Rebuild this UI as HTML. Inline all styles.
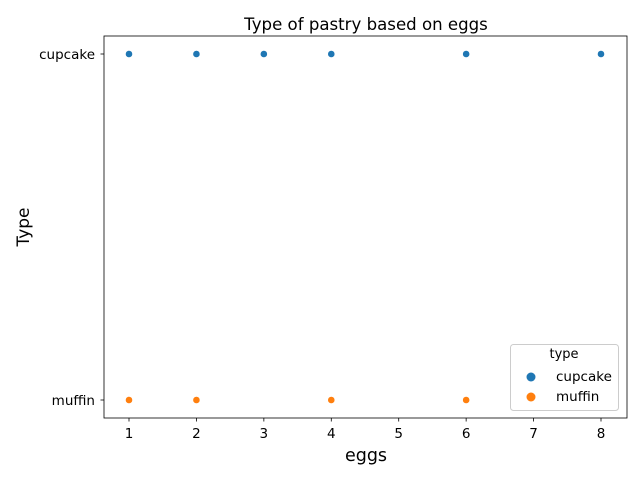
<!DOCTYPE html>
<html><head><meta charset="utf-8"><style>
body{margin:0;background:#fff;font-family:"Liberation Sans","DejaVu Sans",sans-serif}
svg text{font-family:"DejaVu Sans","Liberation Sans",sans-serif}
</style></head><body>
<svg id="chart" width="640" height="480" xmlns="http://www.w3.org/2000/svg">
<rect width="640" height="480" fill="#fff"/>
<g id="g"></g>
</svg>
<script>
const xTicks=[1,2,3,4,5,6,7,8];
const categories=["cupcake","muffin"];
const cupcakeEggs=[1,2,3,4,6,8];
const muffinEggs=[1,2,4,6];
const colors={cupcake:"#1f77b4",muffin:"#ff7f0e"};
const L=104,R=627,T=36,B=418;
const xs=v=>129+(v-1)*(601-129)/7;
const ys=c=>c==="cupcake"?54:400;
const g=document.getElementById('g');
const NS="http://www.w3.org/2000/svg";
function mk(t,a,txt){const e=document.createElementNS(NS,t);for(const k in a)e.setAttribute(k,a[k]);if(txt!==undefined)e.textContent=txt;g.appendChild(e);return e;}
let e=mk('text',{x:366,y:30,'text-anchor':'middle','font-size':16.6},'Type of pastry based on eggs');


xTicks.forEach(t=>{
 let l=mk('line',{x1:xs(t),x2:xs(t),y1:B,y2:B+3.5,stroke:'#000','stroke-width':0.8});
 
 
 let tx=mk('text',{x:xs(t),y:B+20,'text-anchor':'middle','font-size':13.5},t);
 
 
});
categories.forEach(c=>{
 let l=mk('line',{x1:L-3.5,x2:L,y1:ys(c),y2:ys(c),stroke:'#000','stroke-width':0.8});
 
 
 let tx=mk('text',{x:L-9,y:ys(c)+5,'text-anchor':'end','font-size':13.5},c);
 
 
});
e=mk('text',{x:366,y:461,'text-anchor':'middle','font-size':17.5},'eggs');


e=mk('text',{x:29,y:227,'text-anchor':'middle','font-size':17,transform:'rotate(-90 29 227)'},'Type');


[[cupcakeEggs,'cupcake'],[muffinEggs,'muffin']].forEach(([arr,c])=>{
 arr.forEach(v=>{
  let p=mk('circle',{cx:xs(v),cy:ys(c),r:3.6,fill:colors[c],stroke:'#fff','stroke-width':0.6});
  
  
 });
});
e=mk('rect',{x:L,y:T,width:R-L,height:B-T,fill:'none',stroke:'#000','stroke-width':0.8});


e=mk('rect',{x:510.5,y:344.5,width:108,height:66,fill:'#fff',stroke:'#ccc',rx:3});


e=mk('text',{x:564,y:358,'text-anchor':'middle','font-size':13},'type');


categories.forEach((c,i)=>{
 let y=377+i*20;
 let m=mk('circle',{cx:531,cy:y,r:4.5,fill:colors[c]});
 
 
 let t=mk('text',{x:556,y:y+4,'font-size':13.5},c);
 
 
});
</script>
</body></html>
